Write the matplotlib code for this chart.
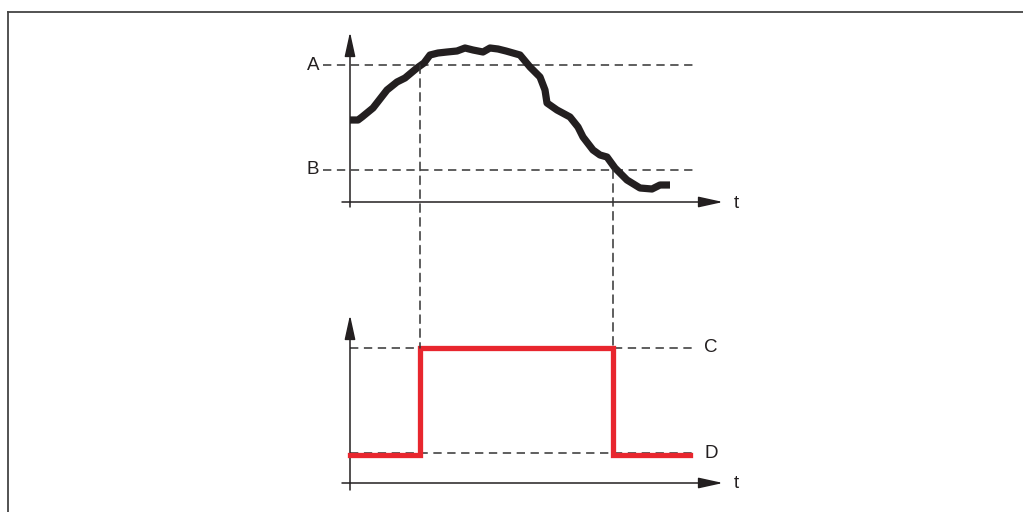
import matplotlib
matplotlib.use("Agg")
import matplotlib.pyplot as plt
from matplotlib.patches import ConnectionPatch
from matplotlib.lines import Line2D

plt.rcParams['font.family'] = ['Liberation Sans', 'DejaVu Sans']
plt.rcParams['lines.scale_dashes'] = False

# ---- data ----
signal_t = [0.0, 0.8, 1.2, 2.3, 3.7, 4.7, 5.5, 6.7, 7.4, 8.0, 8.8, 9.7, 10.7, 11.5,
            12.3, 13.3, 14.0, 14.8, 15.6, 17.0, 18.0, 19.0, 19.5, 19.7, 20.7,
            22.0, 22.8, 23.3, 24.3, 25.0, 25.7, 26.5, 27.7, 29.0, 30.2, 31.0, 32.0]
signal_v = [8.2, 8.2, 8.5, 9.4, 11.2, 12.0, 12.4, 13.4, 13.9, 14.7, 14.9, 15.0, 15.1, 15.4,
            15.2, 15.0, 15.4, 15.3, 15.1, 14.7, 13.5, 12.5, 11.2, 9.9, 9.2,
            8.5, 7.5, 6.5, 5.2, 4.7, 4.5, 3.4, 2.2, 1.4, 1.3, 1.7, 1.7]
level_A = 13.7
level_B = 3.2
switch_on_t = 7.0
switch_off_t = 26.3

out_t = [0.0, switch_on_t, switch_off_t, 34.0]
out_v = [2.85, 13.5, 2.85, 2.85]
level_C = 13.5
level_D = 3.0

top_labels = ["A", "B"]
bot_labels = ["C", "D"]
axis_label = "t"

# ---- styling ----
W, H = 1023, 512
INK = '#231f20'
DASH = '#333333'
RED = '#e8262e'
fig = plt.figure(figsize=(W / 100, H / 100), dpi=100)

def px_axes(x0, x1, y0, y1):
    return fig.add_axes([x0 / W, 1 - y1 / H, (x1 - x0) / W, (y1 - y0) / H])

# t = (px-350)/10 ; v = (axis_py - py)/10
ax1 = px_axes(310, 760, 25, 215)
ax1.set_xlim(-4.0, 41.0)
ax1.set_ylim((202 - 215) / 10, (202 - 25) / 10)
ax2 = px_axes(310, 760, 305, 500)
ax2.set_xlim(-4.0, 41.0)
ax2.set_ylim((483 - 500) / 10, (483 - 305) / 10)
for ax in (ax1, ax2):
    ax.axis('off')

dash_kw = dict(color=DASH, lw=1.1, dashes=(6, 4), clip_on=False)
arrow_kw = dict(arrowstyle='-|>,head_length=1.5,head_width=0.33',
                mutation_scale=10, color=INK, lw=1.1, shrinkA=0, shrinkB=0)

def axes_arrows(ax, ytop, ybot):
    ax.annotate('', xy=(37.3, 0), xytext=(-0.8, 0), arrowprops=arrow_kw, annotation_clip=False)
    ax.annotate('', xy=(0, ytop), xytext=(0, ybot), arrowprops=arrow_kw, annotation_clip=False)
    ax.text(38.6, -0.1, axis_label, fontsize=13.5, color=INK, ha='center', va='center')

# top panel
axes_arrows(ax1, 17.0, -0.5)
for lab, lev in zip(top_labels, [level_A, level_B]):
    ax1.plot([-2.7, 34.8], [lev, lev], **dash_kw)
    ax1.text(-3.7, lev, lab, fontsize=13.5, color=INK, ha='center', va='center')
ax1.plot(signal_t, signal_v, color=INK, lw=5.2, solid_joinstyle='round',
         solid_capstyle='butt', zorder=5)

# bottom panel
axes_arrows(ax2, 16.8, -0.7)
for lab, lev in zip(bot_labels, [level_C, level_D]):
    ax2.plot([0, 34.7], [lev, lev], **dash_kw)
    ax2.text(36.1, lev, lab, fontsize=13.5, color=INK, ha='center', va='center')
ax2.plot(out_t, out_v, color=RED, lw=3.8, drawstyle='steps-post', zorder=5,
         solid_joinstyle='miter')

# vertical connectors
for t0, lev in [(switch_on_t, level_A), (switch_off_t, level_B)]:
    con = ConnectionPatch(xyA=(t0, lev), coordsA=ax1.transData,
                          xyB=(t0, level_C), coordsB=ax2.transData,
                          color=DASH, lw=1.1, linestyle=(0, (6, 4)), zorder=1)
    fig.add_artist(con)

# frame (top and left edges)
fig.add_artist(Line2D([8 / W, 1.0], [1 - 12 / H, 1 - 12 / H], transform=fig.transFigure,
                      color='#444444', lw=1.3))
fig.add_artist(Line2D([8 / W, 8 / W], [0.0, 1 - 12 / H], transform=fig.transFigure,
                      color='#444444', lw=1.3))

fig.savefig('out.png', dpi=100)
